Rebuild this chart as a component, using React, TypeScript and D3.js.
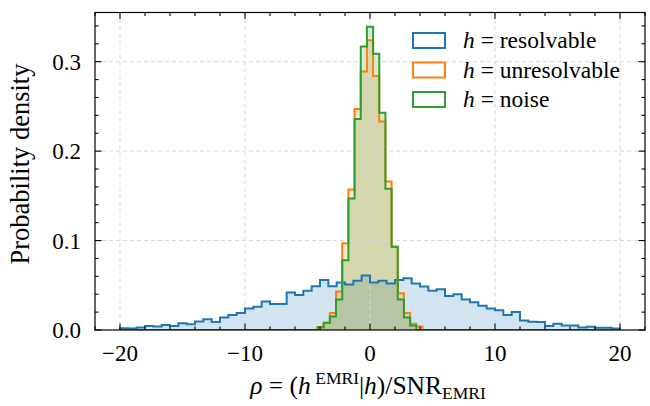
import React from 'react';
import * as d3 from 'd3';

// ---------- data ----------
const xDomain: [number, number] = [-22, 22];
const yDomain: [number, number] = [0, 0.355];
const xMajorTicks = [-20, -10, 0, 10, 20];
const yMajorTicks = [0.0, 0.1, 0.2, 0.3];
const xMinorStep = 2;
const yMinorStep = 0.02;

// h = resolvable: 60 bins on [-20, 20]
const resolvableRange: [number, number] = [-20, 20];
const resolvableDensity = [
  0.002, 0.0018, 0.0028, 0.0045, 0.004, 0.0056, 0.0045, 0.0075, 0.0065, 0.0095,
  0.012, 0.009, 0.014, 0.0168, 0.019, 0.024, 0.026, 0.032, 0.029, 0.029,
  0.042, 0.039, 0.044, 0.049, 0.056, 0.049, 0.053, 0.051, 0.055, 0.061,
  0.053, 0.055, 0.052, 0.056, 0.058, 0.052, 0.0485, 0.044, 0.0455, 0.038,
  0.040, 0.034, 0.031, 0.027, 0.024, 0.022, 0.0168, 0.020, 0.0105, 0.0093,
  0.009, 0.0045, 0.007, 0.005, 0.005, 0.0028, 0.0035, 0.0025, 0.0025, 0.0018,
];

// h = unresolvable and h = noise: 81 bins on [-20, 20]; bins outside the listed ones are empty
const narrowRange: [number, number] = [-20, 20];
const narrowBinCount = 81;
const unresolvableFirstBin = 32;
const unresolvableDensity = [
  0.003, 0.008, 0.019, 0.043, 0.097, 0.157, 0.247, 0.289, 0.324,
  0.284, 0.233, 0.166, 0.093, 0.041, 0.019, 0.007, 0.004,
];
const noiseFirstBin = 32;
const noiseDensity = [
  0.003, 0.008, 0.015, 0.034, 0.078, 0.147, 0.236, 0.317, 0.339,
  0.309, 0.243, 0.158, 0.093, 0.034, 0.014, 0.005,
];

const seriesLabels = ['resolvable', 'unresolvable', 'noise'];
const seriesColors = ['#1f77b4', '#ff7f0e', '#2ca02c'];

// ---------- layout ----------
const W = 650;
const H = 406;
const M = { left: 95, right: 645, top: 12.5, bottom: 330 };
const FONT = '"Liberation Serif", "Times New Roman", serif';

function padBins(first: number, vals: number[], n: number) {
  const out = new Array(n).fill(0);
  vals.forEach((v, i) => (out[first + i] = v));
  return out;
}

export default function App() {
  const x = d3.scaleLinear().domain(xDomain).range([M.left, M.right]);
  const y = d3.scaleLinear().domain(yDomain).range([M.bottom, M.top]);

  const makeEdges = (range: [number, number], n: number) =>
    d3.range(n + 1).map((i) => range[0] + ((range[1] - range[0]) * i) / n);

  const series = [
    { vals: resolvableDensity, edges: makeEdges(resolvableRange, resolvableDensity.length) },
    {
      vals: padBins(unresolvableFirstBin, unresolvableDensity, narrowBinCount),
      edges: makeEdges(narrowRange, narrowBinCount),
    },
    {
      vals: padBins(noiseFirstBin, noiseDensity, narrowBinCount),
      edges: makeEdges(narrowRange, narrowBinCount),
    },
  ];

  const stepPts = (edges: number[], vals: number[]): [number, number][] => {
    const pts: [number, number][] = [[edges[0], 0]];
    vals.forEach((v, i) => {
      pts.push([edges[i], v]);
      pts.push([edges[i + 1], v]);
    });
    pts.push([edges[edges.length - 1], 0]);
    return pts;
  };
  const line = d3
    .line<[number, number]>()
    .x((d) => x(d[0]))
    .y((d) => y(d[1]));

  const xMinor = d3.range(xDomain[0], xDomain[1] + 1e-9, xMinorStep).filter((t) => !xMajorTicks.includes(t));
  const yMinor = d3
    .range(0, yDomain[1], yMinorStep)
    .map((t) => Math.round(t * 1000) / 1000)
    .filter((t) => !yMajorTicks.some((m) => Math.abs(m - t) < 1e-6));

  const majLen = 6.5;
  const minLen = 3.5;
  const axisColor = '#000';

  return (
    <div style={{ position: 'fixed', left: 0, top: 0, width: W, height: H, background: '#fff' }}>
      <svg width={W} height={H} style={{ display: 'block' }} fontFamily={FONT}>
        <defs>
          <clipPath id="plot">
            <rect x={M.left} y={M.top} width={M.right - M.left} height={M.bottom - M.top} />
          </clipPath>
        </defs>
        <rect x={0} y={0} width={W} height={H} fill="#fff" />

        <g clipPath="url(#plot)">
          {series.map((s, i) => (
            <path
              key={'f' + i}
              d={line(stepPts(s.edges, s.vals))! + 'Z'}
              fill={seriesColors[i]}
              fillOpacity={0.2}
              stroke="none"
            />
          ))}
          {xMajorTicks.map((t) => (
            <line
              key={'gx' + t}
              x1={x(t)}
              x2={x(t)}
              y1={M.top}
              y2={M.bottom}
              stroke="#d9d9d9"
              strokeWidth={1}
              strokeDasharray="4,3"
            />
          ))}
          {yMajorTicks
            .filter((t) => t > 0)
            .map((t) => (
              <line
                key={'gy' + t}
                x1={M.left}
                x2={M.right}
                y1={y(t)}
                y2={y(t)}
                stroke="#d9d9d9"
                strokeWidth={1}
                strokeDasharray="4,3"
              />
            ))}
          {series.map((s, i) => (
            <path
              key={'l' + i}
              d={line(stepPts(s.edges, s.vals))!}
              fill="none"
              stroke={seriesColors[i]}
              strokeWidth={2}
              strokeLinejoin="miter"
            />
          ))}
        </g>

        <g stroke={axisColor} strokeWidth={1.1}>
          {xMajorTicks.map((t) => (
            <g key={'xt' + t}>
              <line x1={x(t)} x2={x(t)} y1={M.bottom} y2={M.bottom - majLen} />
              <line x1={x(t)} x2={x(t)} y1={M.top} y2={M.top + majLen} />
            </g>
          ))}
          {xMinor.map((t) => (
            <g key={'xm' + t}>
              <line x1={x(t)} x2={x(t)} y1={M.bottom} y2={M.bottom - minLen} />
              <line x1={x(t)} x2={x(t)} y1={M.top} y2={M.top + minLen} />
            </g>
          ))}
          {yMajorTicks.map((t) => (
            <g key={'yt' + t}>
              <line x1={M.left} x2={M.left + majLen} y1={y(t)} y2={y(t)} />
              <line x1={M.right} x2={M.right - majLen} y1={y(t)} y2={y(t)} />
            </g>
          ))}
          {yMinor.map((t) => (
            <g key={'ym' + t}>
              <line x1={M.left} x2={M.left + minLen} y1={y(t)} y2={y(t)} />
              <line x1={M.right} x2={M.right - minLen} y1={y(t)} y2={y(t)} />
            </g>
          ))}
        </g>

        <rect
          x={M.left}
          y={M.top}
          width={M.right - M.left}
          height={M.bottom - M.top}
          fill="none"
          stroke={axisColor}
          strokeWidth={1.2}
        />

        <g fontSize={23} fill="#000">
          {xMajorTicks.map((t) => (
            <text key={'xl' + t} x={x(t)} y={361} textAnchor="middle">
              {t < 0 ? '\u2212' + Math.abs(t) : String(t)}
            </text>
          ))}
          {yMajorTicks.map((t) => (
            <text key={'yl' + t} x={81} y={y(t) + 8} textAnchor="end">
              {t.toFixed(1)}
            </text>
          ))}
        </g>

        <text x={-164} y={29} transform="rotate(-90)" textAnchor="middle" fontSize={26.5}>
          Probability density
        </text>
        <text x={368} y={394} textAnchor="middle" fontSize={25.5}>
          <tspan fontStyle="italic">ρ</tspan>
          <tspan> = (</tspan>
          <tspan fontStyle="italic">h</tspan>
          <tspan fontSize={17.5} dy={-10}> EMRI</tspan>
          <tspan dy={10}>|</tspan>
          <tspan fontStyle="italic">h</tspan>
          <tspan>)/SNR</tspan>
          <tspan fontSize={17.5} dy={5}>EMRI</tspan>
        </text>

        {seriesLabels.map((lab, i) => {
          const cy = 40.5 + i * 29.5;
          return (
            <g key={'lg' + i}>
              <rect
                x={413}
                y={cy - 7.5}
                width={32}
                height={15}
                fill="none"
                stroke={seriesColors[i]}
                strokeWidth={2}
              />
              <text x={463} y={cy + 7.5} fontSize={23.5}>
                <tspan fontStyle="italic">h</tspan>
                <tspan> = </tspan>
                <tspan>{lab}</tspan>
              </text>
            </g>
          );
        })}
      </svg>
    </div>
  );
}
